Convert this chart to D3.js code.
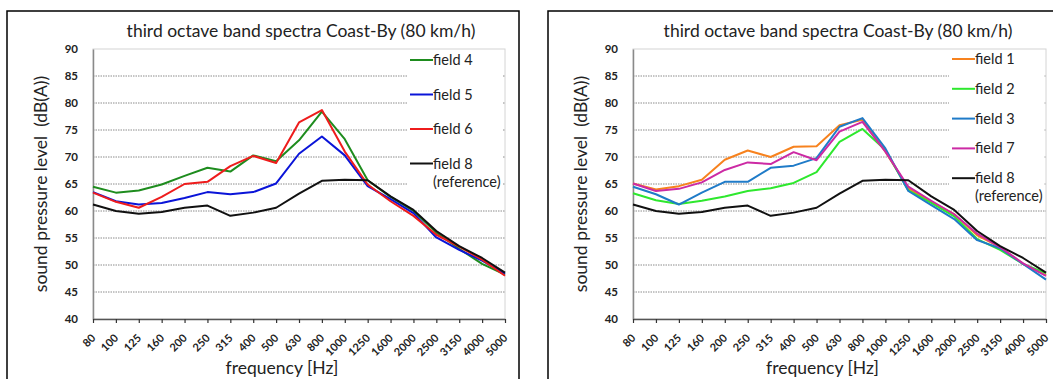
<!DOCTYPE html>
<html>
<head>
<meta charset="utf-8">
<script src="https://cdn.jsdelivr.net/npm/d3@7"></script>
<style>
  body { margin: 0; background: #fff; }
  svg { display: block; font-family: Lato, "Open Sans", sans-serif; }
</style>
</head>
<body>
<div id="chart"></div>
<script>
// third octave band centre frequencies (Hz)
const freqs = ["80", "100", "125", "160", "200", "250", "315", "400", "500", "630",
  "800", "1000", "1250", "1600", "2000", "2500", "3150", "4000", "5000"];
const yTicks = [40, 45, 50, 55, 60, 65, 70, 75, 80, 85, 90];

const field1 = [65.1, 64.0, 64.6, 65.8, 69.5, 71.2, 70.0, 71.9, 72.0, 75.9, 76.9, 71.0, 64.2, 61.7, 59.4, 55.5, 53.3, 50.2, 48.1];
const field2 = [63.3, 62.0, 61.3, 61.9, 62.7, 63.7, 64.2, 65.2, 67.2, 72.8, 75.2, 71.3, 63.8, 61.5, 59.0, 54.8, 52.8, 50.2, 48.5];
const field3 = [64.5, 63.1, 61.2, 63.4, 65.4, 65.4, 68.0, 68.4, 69.8, 75.6, 77.2, 71.6, 63.7, 61.1, 58.5, 54.6, 53.1, 50.2, 47.3];
const field4 = [64.5, 63.4, 63.8, 64.9, 66.5, 68.0, 67.3, 70.3, 69.2, 73.1, 78.4, 73.3, 65.7, 62.6, 60.0, 56.0, 53.0, 50.2, 48.2];
const field5 = [63.5, 61.8, 61.2, 61.5, 62.4, 63.5, 63.1, 63.5, 65.1, 70.6, 73.8, 70.3, 64.6, 62.2, 59.6, 55.1, 52.8, 50.8, 48.4];
const field6 = [63.4, 61.7, 60.6, 62.6, 65.0, 65.4, 68.3, 70.2, 68.9, 76.4, 78.7, 71.0, 64.9, 61.8, 59.1, 55.6, 53.4, 51.0, 48.0];
const field7 = [65.1, 63.7, 64.1, 65.3, 67.6, 69.0, 68.7, 70.9, 69.4, 74.7, 76.5, 71.0, 64.5, 61.9, 59.4, 55.8, 53.3, 50.3, 48.0];
const field8 = [61.2, 60.0, 59.5, 59.8, 60.6, 61.0, 59.1, 59.7, 60.6, 63.2, 65.6, 65.8, 65.7, 62.7, 60.2, 56.3, 53.5, 51.3, 48.6];

const svgWidth = 1053;
const svgHeight = 379;

const svg = d3.select("#chart")
  .append("svg")
  .attr("width", svgWidth)
  .attr("height", svgHeight);

// one panel: frame, title, axes, grid, lines and legend
function drawPanel(cfg) {
  const g = svg.append("g");

  // outer frame (runs off the bottom of the picture)
  g.append("rect")
    .attr("x", cfg.boxX)
    .attr("y", 11)
    .attr("width", cfg.boxW)
    .attr("height", 400)
    .attr("fill", "none")
    .attr("stroke", "#000")
    .attr("stroke-width", 1.5);

  const x = d3.scalePoint().domain(freqs).range([cfg.left, cfg.right]);
  const y = d3.scaleLinear().domain([40, 90]).range([319, 49]);

  // plot area border (light)
  g.append("rect")
    .attr("x", cfg.left)
    .attr("y", y(90))
    .attr("width", cfg.right - cfg.left)
    .attr("height", y(40) - y(90))
    .attr("fill", "none")
    .attr("stroke", "#d4d4d4")
    .attr("stroke-width", 1);

  // gridlines
  g.selectAll(".grid")
    .data(yTicks.filter(d => d > 40 && d < 90))
    .enter()
    .append("line")
    .attr("x1", cfg.left)
    .attr("x2", cfg.right)
    .attr("y1", d => y(d))
    .attr("y2", d => y(d))
    .attr("stroke", "#8c8c8c")
    .attr("stroke-width", 1)
    .attr("stroke-dasharray", "1.5,1");

  // y axis
  const yAxis = g.append("g")
    .attr("transform", `translate(${cfg.left},0)`)
    .call(d3.axisLeft(y).tickValues(yTicks).tickSize(0).tickPadding(15));
  yAxis.select(".domain").attr("stroke", "#8a8a8a").attr("stroke-width", 1.5);
  yAxis.selectAll("text")
    .attr("font-family", "Lato, sans-serif")
    .attr("font-weight", "bold")
    .attr("font-size", 11.5)
    .attr("fill", "#222");

  // x axis, labels turned 45 degrees
  const xAxis = g.append("g")
    .attr("transform", `translate(0,${y(40)})`)
    .call(d3.axisBottom(x).tickSize(4).tickSizeOuter(0));
  xAxis.select(".domain").attr("stroke", "#555").attr("stroke-width", 1.5);
  xAxis.selectAll(".tick line").attr("stroke", "#333").attr("stroke-width", 1.2);
  xAxis.selectAll("text")
    .attr("font-family", "Lato, sans-serif")
    .attr("font-weight", "bold")
    .attr("font-size", 11)
    .attr("fill", "#222")
    .attr("text-anchor", "end")
    .attr("y", 0)
    .attr("dy", "0.35em")
    .attr("transform", "translate(0,17) rotate(-45)");

  // titles
  g.append("text")
    .attr("x", cfg.titleX)
    .attr("y", 37)
    .attr("text-anchor", "middle")
    .attr("font-size", 17.5)
    .attr("fill", "#222")
    .text("third octave band spectra Coast-By (80 km/h)");

  g.append("text")
    .attr("transform", `translate(${cfg.left - 46},${(y(40) + y(90)) / 2}) rotate(-90)`)
    .attr("text-anchor", "middle")
    .attr("font-size", 17.5)
    .attr("fill", "#222")
    .style("white-space", "pre")
    .text("sound pressure level  (dB(A))");

  g.append("text")
    .attr("x", (cfg.left + cfg.right) / 2 - 17)
    .attr("y", 374)
    .attr("text-anchor", "middle")
    .attr("font-size", 17.5)
    .attr("fill", "#222")
    .text("frequency [Hz]");

  // series lines
  const line = d3.line()
    .x((d, i) => x(freqs[i]))
    .y(d => y(d));

  g.selectAll(".series")
    .data(cfg.series)
    .enter()
    .append("path")
    .attr("d", s => line(s.values))
    .attr("fill", "none")
    .attr("stroke", s => s.color)
    .attr("stroke-width", 2)
    .attr("stroke-linejoin", "round");

  // legend over a white box
  g.append("rect")
    .attr("x", cfg.legX - 3)
    .attr("y", 50)
    .attr("width", cfg.right - cfg.legX + 1)
    .attr("height", cfg.legBoxH)
    .attr("fill", "#fff");

  const leg = g.selectAll(".leg")
    .data(cfg.series)
    .enter()
    .append("g")
    .attr("transform", (s, i) => `translate(${cfg.legX},${cfg.legY + i * cfg.legStep})`);
  leg.append("line")
    .attr("x1", 0).attr("x2", 23)
    .attr("y1", 0).attr("y2", 0)
    .attr("stroke", s => s.color)
    .attr("stroke-width", 2);
  leg.append("text")
    .attr("x", 23)
    .attr("y", 5)
    .attr("font-size", 14.5)
    .attr("fill", "#222")
    .text(s => s.name);
  leg.filter(s => s.note)
    .append("text")
    .attr("x", 23)
    .attr("y", 23)
    .attr("font-size", 14.5)
    .attr("fill", "#222")
    .text(s => s.note);
}

drawPanel({
  boxX: 7, boxW: 512,
  left: 93, right: 505,
  titleX: 301,
  legX: 410, legY: 60, legStep: 34.5, legBoxH: 142,
  series: [
    { name: "field 4", values: field4, color: "#1e8c1e" },
    { name: "field 5", values: field5, color: "#0a14d8" },
    { name: "field 6", values: field6, color: "#ee1c1c" },
    { name: "field 8", note: "(reference)", values: field8, color: "#111" }
  ]
});

drawPanel({
  boxX: 548, boxW: 520,
  left: 633, right: 1046,
  titleX: 838,
  legX: 952, legY: 59, legStep: 29.8, legBoxH: 154,
  series: [
    { name: "field 1", values: field1, color: "#f7821e" },
    { name: "field 2", values: field2, color: "#2ee82e" },
    { name: "field 3", values: field3, color: "#1f7bc8" },
    { name: "field 7", values: field7, color: "#cc2aa4" },
    { name: "field 8", note: "(reference)", values: field8, color: "#111" }
  ]
});
</script>
</body>
</html>
